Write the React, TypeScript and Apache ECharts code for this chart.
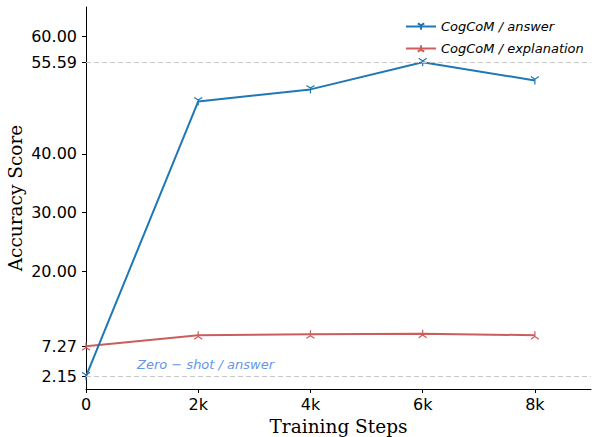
import React, { useEffect, useRef } from "react";
import * as echarts from "echarts";

const steps = [0, 2000, 4000, 6000, 8000];
const answerScores = [2.15, 48.94, 50.98, 55.59, 52.5];
const explanationScores = [7.27, 9.15, 9.3, 9.4, 9.15];
const yTicks = [2.15, 7.27, 20, 30, 40, 55.59, 60];
const xTicks = [0, 2000, 4000, 6000, 8000];
const refLines = [55.59, 2.15];
const seriesNames = ["CogCoM / answer", "CogCoM / explanation"];
const annotation = "Zero − shot / answer";

const triDown = "path://M5 5 L5 10 M5 5 L0.67 2.5 M5 5 L9.33 2.5";
const triUp = "path://M5 5 L5 0 M5 5 L0.67 7.5 M5 5 L9.33 7.5";

export default function App() {
  const ref = useRef<HTMLDivElement>(null);
  useEffect(() => {
    document.body.style.margin = "0";
    const chart = echarts.init(ref.current!, null, { renderer: "svg" });
    const mk = (xs: number[], ys: number[]) => xs.map((x, i) => [x, ys[i]]);
    chart.setOption({
      animation: false,
      backgroundColor: "#ffffff",
      grid: { left: 86, top: 7, right: 1, bottom: 48, containLabel: false, outerBoundsMode: "none" },
      legend: {
        orient: "vertical",
        left: 400,
        top: 15,
        itemWidth: 30,
        itemHeight: 8,
        itemGap: 9,
        textStyle: {
          fontFamily: "DejaVu Sans",
          fontStyle: "italic",
          fontSize: 13,
          color: "#000",
        },
        data: seriesNames,
      },
      xAxis: {
        type: "value",
        min: 0,
        max: 9000,
        name: "Training Steps",
        nameLocation: "middle",
        nameGap: 28,
        nameMoveOverlap: false,
        nameTextStyle: { fontFamily: "DejaVu Serif", fontSize: 18.5, color: "#000" },
        axisLine: { lineStyle: { color: "#000", width: 1 } },
        axisTick: { show: true, length: 4, customValues: xTicks, lineStyle: { color: "#000" } },
        axisLabel: {
          customValues: xTicks,
          fontFamily: "DejaVu Sans",
          fontSize: 16,
          color: "#000",
          margin: 7,
          formatter: (v: number) => (v === 0 ? "0" : v / 1000 + "k"),
        },
        splitLine: { show: false },
      },
      yAxis: {
        type: "value",
        min: 0,
        max: 65,
        name: "Accuracy Score",
        nameLocation: "middle",
        nameGap: 61,
        nameMoveOverlap: false,
        nameTextStyle: { fontFamily: "DejaVu Serif", fontSize: 18.5, color: "#000" },
        axisLine: { show: true, lineStyle: { color: "#000", width: 1 } },
        axisTick: { show: true, length: 4, customValues: yTicks, lineStyle: { color: "#000" } },
        axisLabel: {
          customValues: yTicks,
          fontFamily: "DejaVu Sans",
          fontSize: 16,
          color: "#000",
          margin: 9,
          formatter: (v: number) => v.toFixed(2),
        },
        splitLine: { show: false },
      },
      graphic: [
        {
          type: "text",
          left: 137,
          top: 358,
          style: {
            text: annotation,
            fill: "#6495ed",
            font: "italic 13px 'DejaVu Sans'",
          },
        },
      ],
      series: [
        {
          name: seriesNames[0],
          type: "line",
          data: mk(steps, answerScores),
          symbol: triDown,
          symbolSize: 8,
          showAllSymbol: true,
          color: "#1f77b4",
          lineStyle: { color: "#1f77b4", width: 2 },
          itemStyle: { color: "none", borderColor: "#1f77b4", borderWidth: 1.2 },
          z: 3,
          markLine: {
            silent: true,
            symbol: "none",
            label: { show: false },
            lineStyle: { color: "#c8c8c8", type: [5, 3], width: 1 },
            data: refLines.map((v) => ({ yAxis: v })),
          },
        },
        {
          name: seriesNames[1],
          type: "line",
          data: mk(steps, explanationScores),
          symbol: triUp,
          symbolSize: 8,
          showAllSymbol: true,
          color: "#cd5c5c",
          lineStyle: { color: "#cd5c5c", width: 2 },
          itemStyle: { color: "none", borderColor: "#cd5c5c", borderWidth: 1.2 },
          z: 2,
        },
      ],
    });
    return () => chart.dispose();
  }, []);
  return <div ref={ref} style={{ width: 592, height: 437 }} />;
}
